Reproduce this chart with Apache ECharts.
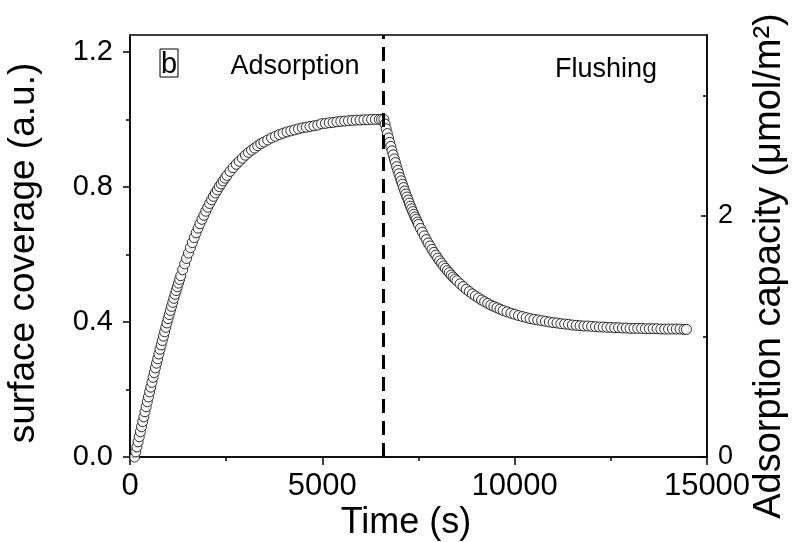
<!DOCTYPE html>
<html>
<head>
<meta charset="utf-8">
<title>surface coverage</title>
<script src="https://cdn.jsdelivr.net/npm/echarts@6.0.0/dist/echarts.min.js"></script>
<style>
  html, body { margin: 0; padding: 0; background: #fff; }
  #chart { width: 797px; height: 542px; }
</style>
</head>
<body>
<div id="chart"></div>
<script>
// adsorption step, time (s) and surface coverage (a.u.)
var adsTime = [
  120, 150, 180, 210, 240, 270, 300, 330, 360, 390, 420, 450, 480, 510, 540, 570, 600, 630, 660, 690,
  720, 750, 780, 810, 840, 870, 900, 930, 960, 990, 1020, 1050, 1080, 1110, 1140, 1170, 1200, 1230, 1260, 1290, 1320,
  1370, 1420, 1470, 1520, 1570, 1620, 1670, 1720, 1770, 1820, 1870, 1920, 1970, 2020, 2070, 2120, 2170, 2220, 2270, 2320,
  2370, 2420, 2470, 2520,
  2600, 2680, 2760, 2840, 2920, 3000, 3080, 3160, 3240, 3320, 3400, 3480,
  3580, 3680, 3780, 3880, 3980, 4080, 4180, 4280, 4380, 4480, 4580, 4680, 4780, 4880, 4980, 5080, 5180, 5280, 5380, 5480,
  5580, 5680, 5780, 5880, 5980, 6080, 6180, 6280, 6380, 6480, 6540
];
var adsCov = [
  0, 0.015, 0.030, 0.045, 0.060, 0.075, 0.090, 0.105, 0.119, 0.134, 0.149, 0.164, 0.178, 0.193, 0.207, 0.221, 0.236, 0.250, 0.264, 0.278,
  0.291, 0.305, 0.319, 0.332, 0.345, 0.358, 0.371, 0.384, 0.397, 0.410, 0.422, 0.434, 0.446, 0.458, 0.470, 0.482, 0.493, 0.504, 0.515, 0.526, 0.537,
  0.555, 0.572, 0.588, 0.604, 0.620, 0.635, 0.650, 0.664, 0.678, 0.691, 0.704, 0.716, 0.728, 0.740, 0.751, 0.762, 0.772, 0.782, 0.791, 0.801,
  0.809, 0.818, 0.826, 0.834,
  0.846, 0.857, 0.867, 0.876, 0.885, 0.894, 0.902, 0.909, 0.915, 0.922, 0.928, 0.933,
  0.939, 0.945, 0.950, 0.955, 0.959, 0.963, 0.966, 0.969, 0.972, 0.975, 0.977, 0.979, 0.981, 0.983, 0.987, 0.988, 0.990, 0.991, 0.993, 0.994,
  0.995, 0.996, 0.997, 0.998, 0.998, 0.999, 0.999, 1.000, 1.000, 1.000, 1.000
];

// flushing step
var flushTime = [
  6600, 6630, 6660, 6690, 6720, 6750, 6780, 6810, 6840, 6870, 6900, 6930, 6960, 6990, 7020, 7050, 7080, 7110, 7140, 7170,
  7200, 7230, 7260, 7290, 7320, 7350, 7380, 7410, 7440, 7470, 7500,
  7550, 7600, 7650, 7700, 7750, 7800, 7850, 7900, 7950, 8000, 8050, 8100, 8150, 8200, 8250, 8300, 8350, 8400, 8450, 8500,
  8580, 8660, 8740, 8820, 8900, 8980, 9060, 9140, 9220, 9300, 9380, 9460, 9540, 9620, 9700,
  9800, 9900, 10000, 10100, 10200, 10300, 10400, 10500, 10600, 10700, 10800, 10900, 11000, 11100, 11200, 11300, 11400, 11500,
  11600, 11700, 11800, 11900, 12000, 12100, 12200, 12300, 12400, 12500, 12600, 12700, 12800, 12900, 13000, 13100, 13200,
  13300, 13400, 13500, 13600, 13700, 13800, 13900, 14000, 14100, 14200, 14300, 14400, 14465
];
var flushCov = [
  1.000, 0.986, 0.972, 0.958, 0.945, 0.932, 0.920, 0.907, 0.895, 0.883, 0.872, 0.860, 0.849, 0.839, 0.828, 0.818, 0.808, 0.798, 0.788, 0.779,
  0.770, 0.761, 0.752, 0.743, 0.735, 0.727, 0.719, 0.711, 0.704, 0.696, 0.689,
  0.677, 0.666, 0.655, 0.644, 0.634, 0.625, 0.615, 0.606, 0.598, 0.589, 0.581, 0.574, 0.566, 0.559, 0.552, 0.546, 0.539, 0.533, 0.527, 0.522,
  0.513, 0.505, 0.497, 0.490, 0.483, 0.477, 0.471, 0.465, 0.460, 0.455, 0.450, 0.446, 0.442, 0.438, 0.434,
  0.430, 0.426, 0.423, 0.419, 0.416, 0.413, 0.410, 0.408, 0.406, 0.404, 0.402, 0.400, 0.398, 0.397, 0.395, 0.394, 0.393, 0.391,
  0.390, 0.389, 0.388, 0.388, 0.387, 0.386, 0.385, 0.385, 0.384, 0.384, 0.383, 0.383, 0.382, 0.382, 0.381, 0.381, 0.381,
  0.381, 0.380, 0.380, 0.380, 0.380, 0.379, 0.379, 0.379, 0.379, 0.379, 0.379, 0.378, 0.378
];

var flushStart = 6580;          // dashed line, start of flushing
var xTicks = [0, 5000, 10000, 15000];
var leftTicks = [0, 0.4, 0.8, 1.2];
var rightTicks = [0, 2];

var FONT = "'Liberation Sans', Arial, Helvetica, sans-serif";

function pairs(xs, ys) {
  return xs.map(function (x, i) { return [x, ys[i]]; });
}

var circleStyle = {
  color: '#fff',
  borderColor: '#000',
  borderWidth: 1
};

var chart = echarts.init(document.getElementById('chart'), null, { renderer: 'canvas' });

var option = {
  animation: false,
  backgroundColor: '#fff',
  grid: {
    left: 130, right: 90, top: 35, bottom: 85,
    show: true, borderColor: '#000', borderWidth: 1.5, backgroundColor: 'transparent'
  },
  xAxis: {
    type: 'value', min: 0, max: 15000, interval: 5000,
    axisLine: { lineStyle: { color: '#000', width: 1.5 } },
    axisTick: { length: 8, lineStyle: { color: '#000', width: 1.5 }, customValues: xTicks },
    minorTick: { show: true, splitNumber: 2, length: 4, lineStyle: { color: '#000', width: 1.5 } },
    axisLabel: {
      customValues: xTicks, margin: 14, fontSize: 31, fontFamily: FONT, color: '#000',
      formatter: function (v) { return String(v); }
    },
    splitLine: { show: false }
  },
  yAxis: [
    {
      type: 'value', min: 0, max: 1.25, interval: 0.4, position: 'left',
      axisLine: { show: true, lineStyle: { color: '#000', width: 1.5 } },
      axisTick: { show: true, length: 7, lineStyle: { color: '#000', width: 1.5 }, customValues: leftTicks },
      minorTick: { show: true, splitNumber: 2, length: 4, lineStyle: { color: '#000', width: 1.5 } },
      axisLabel: {
        customValues: leftTicks, margin: 17, fontSize: 29, fontFamily: FONT, color: '#000',
        formatter: function (v) { return v.toFixed(1); }
      },
      splitLine: { show: false }
    },
    {
      type: 'value', min: 0, max: 3.5, interval: 2, position: 'right',
      axisLine: { show: true, lineStyle: { color: '#000', width: 1.5 } },
      axisTick: { show: true, inside: true, length: 6, lineStyle: { color: '#000', width: 1.5 }, customValues: rightTicks },
      minorTick: { show: true, splitNumber: 2, length: 4, lineStyle: { color: '#000', width: 1.5 } },
      axisLabel: {
        customValues: rightTicks, margin: 11, fontSize: 27, fontFamily: FONT, color: '#000',
        formatter: function (v) { return String(v); }
      },
      splitLine: { show: false }
    }
  ],
  series: [
    {
      name: 'Adsorption', type: 'scatter', yAxisIndex: 0,
      symbol: 'circle', symbolSize: 10,
      itemStyle: circleStyle,
      emphasis: { disabled: true },
      data: pairs(adsTime, adsCov),
      markLine: {
        silent: true, symbol: 'none', label: { show: false },
        lineStyle: { color: '#000', width: 3, type: [14, 8] },
        data: [{ xAxis: flushStart }]
      }
    },
    {
      name: 'Flushing', type: 'scatter', yAxisIndex: 0,
      symbol: 'circle', symbolSize: 10,
      itemStyle: circleStyle,
      emphasis: { disabled: true },
      data: pairs(flushTime, flushCov)
    }
  ],
  graphic: [
    {
      type: 'text', x: 24, y: 253, rotation: Math.PI / 2,
      style: { text: 'surface coverage (a.u.)', fontSize: 37, fontFamily: FONT, fill: '#000', align: 'center', verticalAlign: 'middle' }
    },
    {
      type: 'text', x: 770, y: 266, rotation: Math.PI / 2,
      style: { text: 'Adsorption capacity (\u03bcmol/m\u00b2)', fontSize: 38, fontFamily: FONT, fill: '#000', align: 'center', verticalAlign: 'middle' }
    },
    {
      type: 'text', x: 406, y: 523,
      style: { text: 'Time (s)', fontSize: 36, fontFamily: FONT, fill: '#000', align: 'center', verticalAlign: 'middle' }
    },
    {
      type: 'text', x: 295, y: 67,
      style: { text: 'Adsorption', fontSize: 27, fontFamily: FONT, fill: '#000', align: 'center', verticalAlign: 'middle' }
    },
    {
      type: 'text', x: 606, y: 70,
      style: { text: 'Flushing', fontSize: 27, fontFamily: FONT, fill: '#000', align: 'center', verticalAlign: 'middle' }
    },
    {
      type: 'rect', shape: { x: 160, y: 49, width: 18, height: 28 },
      style: { fill: 'transparent', stroke: '#000', lineWidth: 1 }
    },
    {
      type: 'text', x: 169, y: 65,
      style: { text: 'b', fontSize: 29, fontFamily: FONT, fill: '#000', align: 'center', verticalAlign: 'middle' }
    }
  ]
};

chart.setOption(option);
</script>
</body>
</html>
